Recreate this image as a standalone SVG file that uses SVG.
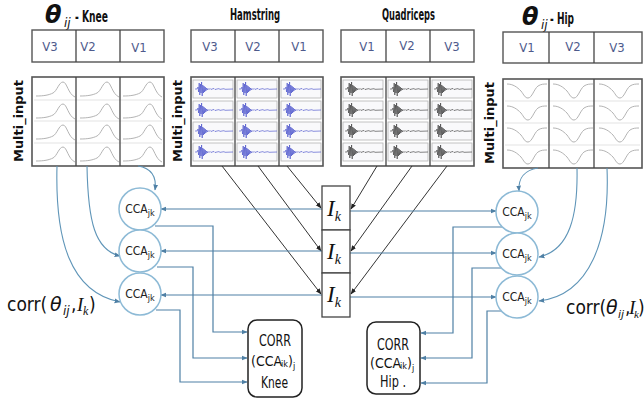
<svg xmlns="http://www.w3.org/2000/svg" xmlns:xlink="http://www.w3.org/1999/xlink" width="644" height="403" viewBox="0 0 644 403">
<style>
.t{font-family:"DejaVu Sans Condensed","DejaVu Sans",sans-serif;fill:#111}
.title{font-size:15px;font-weight:bold}
.vl{font-family:"DejaVu Sans Condensed","DejaVu Sans",sans-serif;font-size:13px;fill:#4e5a8c;text-anchor:middle}
.mi{font-family:"DejaVu Sans",sans-serif;font-weight:bold;font-size:13px;fill:#111;text-anchor:middle}
.vbox{fill:#fff;stroke:#555;stroke-width:1.4}
.pbox{fill:#fff;stroke:#555;stroke-width:1.6}
.div{stroke:#444;stroke-width:1.3}
.grid{stroke:#dcdcdc;stroke-width:0.8;fill:none}
.soft{fill:none;stroke:#b4b4b4;stroke-width:1}
.panel{fill:#f9f9fb;stroke:#b4b4b4;stroke-width:0.8}
.emgH{fill:none;stroke:#3d44c8;stroke-width:0.6}
.emgQ{fill:none;stroke:#333;stroke-width:0.6}
.cca{fill:#fff;stroke:#8dbad6;stroke-width:1.5}
.ccat{font-family:"DejaVu Sans Condensed","DejaVu Sans",sans-serif;font-size:12px;fill:#222;text-anchor:middle}
.ik{fill:#fff;stroke:#444;stroke-width:1.3}
.ikt{font-family:"Liberation Serif",serif;font-style:italic;font-size:23px;fill:#111;text-anchor:middle}
.corr{fill:#fff;stroke:#222;stroke-width:1.5}
.corrt{font-family:"DejaVu Sans Condensed","DejaVu Sans",sans-serif;font-size:15px;fill:#111}
.cc{font-family:"DejaVu Sans Condensed","DejaVu Sans",sans-serif;font-size:14px;fill:#111}
.blue{fill:none;stroke:#4f80a5;stroke-width:1.2;marker-end:url(#ab)}
.curve{fill:none;stroke:#5f95b8;stroke-width:1.1;marker-end:url(#ab)}
.diag{fill:none;stroke:#333;stroke-width:1;marker-end:url(#ak)}
.th{font-family:"DejaVu Sans",sans-serif;font-style:italic}
.ser{font-family:"Liberation Serif",serif;font-style:italic}
.cl{font-family:"DejaVu Sans Condensed","DejaVu Sans",sans-serif;font-size:19px;fill:#111}
</style>
<defs>
<marker id="ab" viewBox="0 0 10 10" refX="9" refY="5" markerWidth="6" markerHeight="6" orient="auto" markerUnits="userSpaceOnUse"><path d="M0,1 L10,5 L0,9 z" fill="#4f80a5"/></marker>
<marker id="ak" viewBox="0 0 10 10" refX="9" refY="5" markerWidth="6" markerHeight="6" orient="auto" markerUnits="userSpaceOnUse"><path d="M0,1 L10,5 L0,9 z" fill="#222"/></marker>
<path id="bump" d="M2,16 C10,16 15,15 19,13 C23,11 25,2 29,2 C33,2 34,14 41,17"/>
<path id="dip" d="M2,3 C8,3 12,6 16,10 C19,14 20,17 23,17 C27,17 29,8 33,5 C36,3 39,3 42,3"/>
<path id="emg" d="M0,8 L2,8 L3,6 L3.6,11 L4.2,2 L4.8,14 L5.4,3 L6,12 L6.6,1 L7.2,15 L7.8,4 L8.4,12 L9,5 L9.6,11 L10.2,6 L10.8,10 L11.5,7 L12.2,9 L13,7.5 L14,8.5 L15,7.5 L16,8.5 L17,8 L19,7.5 L20,8.5 L22,8 L24,7.6 L25,8.4 L27,8 L29,7.7 L30,8.3 L38,8"/>
<g id="emgcol">
<rect class="panel" x="2" y="3" width="40" height="18"/>
<rect class="panel" x="2" y="24" width="40" height="18"/>
<rect class="panel" x="2" y="45" width="40" height="18"/>
<rect class="panel" x="2" y="66" width="40" height="18"/>
</g>
</defs>

<!-- Knee -->
<g id="knee">
<text x="45" y="23" class="t th" style="font-size:24px;font-weight:bold">θ</text>
<text x="64" y="27" class="t th" style="font-size:12px">ij</text>
<text x="75" y="22" class="t title" textLength="33" lengthAdjust="spacingAndGlyphs">- Knee</text>
<rect class="vbox" x="32" y="30" width="132" height="32"/>
<line class="div" x1="76" y1="30" x2="76" y2="62"/><line class="div" x1="120" y1="30" x2="120" y2="62"/>
<text class="vl" x="50" y="51">V3</text><text class="vl" x="88" y="51">V2</text><text class="vl" x="139" y="52">V1</text>
<rect class="pbox" x="32" y="77" width="132" height="89"/>
<path class="grid" d="M34,100 H162 M34,121 H162 M34,143 H162"/>
<g class="soft">
<use href="#bump" x="34" y="80"/><use href="#bump" x="34" y="102"/><use href="#bump" x="34" y="123"/><use href="#bump" x="34" y="145"/>
<use href="#bump" x="78" y="80"/><use href="#bump" x="78" y="102"/><use href="#bump" x="78" y="123"/><use href="#bump" x="78" y="145"/>
<use href="#bump" x="121" y="80"/><use href="#bump" x="121" y="102"/><use href="#bump" x="121" y="123"/><use href="#bump" x="121" y="145"/>
</g>
<line class="div" x1="76" y1="77" x2="76" y2="166"/><line class="div" x1="120" y1="77" x2="120" y2="166"/>
<text class="mi" transform="translate(23,121) rotate(-90)" textLength="82" lengthAdjust="spacingAndGlyphs">Multi_input</text>
</g>

<!-- Hamstring -->
<g id="hamstring">
<text x="230" y="20" class="t title" textLength="50" lengthAdjust="spacingAndGlyphs">Hamstring</text>
<rect class="vbox" x="191" y="30" width="132" height="32"/>
<line class="div" x1="235" y1="30" x2="235" y2="62"/><line class="div" x1="279" y1="30" x2="279" y2="62"/>
<text class="vl" x="210" y="51">V3</text><text class="vl" x="253" y="51">V2</text><text class="vl" x="299" y="51">V1</text>
<rect class="pbox" x="191" y="77" width="132" height="89"/>
<use href="#emgcol" x="191" y="77"/><use href="#emgcol" x="235" y="77"/><use href="#emgcol" x="279" y="77"/>
<g class="emgH">
<use href="#emg" x="195" y="81"/><use href="#emg" x="195" y="102"/><use href="#emg" x="195" y="123"/><use href="#emg" x="195" y="144"/>
<use href="#emg" x="239" y="81"/><use href="#emg" x="239" y="102"/><use href="#emg" x="239" y="123"/><use href="#emg" x="239" y="144"/>
<use href="#emg" x="283" y="81"/><use href="#emg" x="283" y="102"/><use href="#emg" x="283" y="123"/><use href="#emg" x="283" y="144"/>
</g>
<line class="div" x1="235" y1="77" x2="235" y2="166"/><line class="div" x1="279" y1="77" x2="279" y2="166"/>
<text class="mi" transform="translate(182,121) rotate(-90)" textLength="82" lengthAdjust="spacingAndGlyphs">Multi_input</text>
</g>

<!-- Quadriceps -->
<g id="quadriceps">
<text x="382" y="20" class="t title" textLength="53" lengthAdjust="spacingAndGlyphs">Quadriceps</text>
<rect class="vbox" x="341" y="30" width="133" height="32"/>
<line class="div" x1="386" y1="30" x2="386" y2="62"/><line class="div" x1="430" y1="30" x2="430" y2="62"/>
<text class="vl" x="367" y="51">V1</text><text class="vl" x="407" y="50">V2</text><text class="vl" x="452" y="51">V3</text>
<rect class="pbox" x="341" y="77" width="133" height="89"/>
<use href="#emgcol" x="341" y="77"/><use href="#emgcol" x="386" y="77"/><use href="#emgcol" x="430" y="77"/>
<g class="emgQ">
<use href="#emg" x="345" y="81"/><use href="#emg" x="345" y="102"/><use href="#emg" x="345" y="123"/><use href="#emg" x="345" y="144"/>
<use href="#emg" x="390" y="81"/><use href="#emg" x="390" y="102"/><use href="#emg" x="390" y="123"/><use href="#emg" x="390" y="144"/>
<use href="#emg" x="434" y="81"/><use href="#emg" x="434" y="102"/><use href="#emg" x="434" y="123"/><use href="#emg" x="434" y="144"/>
</g>
<line class="div" x1="386" y1="77" x2="386" y2="166"/><line class="div" x1="430" y1="77" x2="430" y2="166"/>
</g>

<!-- Hip -->
<g id="hip">
<text x="522" y="25" class="t th" style="font-size:24px;font-weight:bold">θ</text>
<text x="541" y="29" class="t th" style="font-size:12px">ij</text>
<text x="550" y="24" class="t title" textLength="24" lengthAdjust="spacingAndGlyphs">- Hip</text>
<rect class="vbox" x="503" y="32" width="139" height="31"/>
<line class="div" x1="549" y1="32" x2="549" y2="63"/><line class="div" x1="594" y1="32" x2="594" y2="63"/>
<text class="vl" x="527" y="52">V1</text><text class="vl" x="573" y="51">V2</text><text class="vl" x="617" y="52">V3</text>
<rect class="pbox" x="503" y="79" width="139" height="89"/>
<path class="grid" d="M505,101 H640 M505,123 H640 M505,145 H640"/>
<g class="soft">
<use href="#dip" x="505" y="81"/><use href="#dip" x="505" y="103"/><use href="#dip" x="505" y="125"/><use href="#dip" x="505" y="147"/>
<use href="#dip" x="551" y="81"/><use href="#dip" x="551" y="103"/><use href="#dip" x="551" y="125"/><use href="#dip" x="551" y="147"/>
<use href="#dip" x="597" y="81"/><use href="#dip" x="597" y="103"/><use href="#dip" x="597" y="125"/><use href="#dip" x="597" y="147"/>
</g>
<line class="div" x1="549" y1="79" x2="549" y2="168"/><line class="div" x1="594" y1="79" x2="594" y2="168"/>
<text class="mi" transform="translate(494,123) rotate(-90)" textLength="82" lengthAdjust="spacingAndGlyphs">Multi_input</text>
</g>

<!-- Connectors -->
<g id="connectors">
<path class="diag" d="M287,166 L321,208"/>
<path class="diag" d="M258,166 L321,251"/>
<path class="diag" d="M222,166 L321,294"/>
<path class="diag" d="M377,166 L351,209"/>
<path class="diag" d="M412,166 L351,251"/>
<path class="diag" d="M447,166 L351,294"/>
<path class="blue" d="M322,209 H161"/>
<path class="blue" d="M322,251 H161"/>
<path class="blue" d="M322,295 H161"/>
<path class="blue" d="M350,211 H496"/>
<path class="blue" d="M350,253 H496"/>
<path class="blue" d="M350,297 H496"/>
<path class="curve" d="M57,166 C55,240 70,292 120,302"/>
<path class="curve" d="M87,166 C88,222 95,250 120,256"/>
<path class="curve" d="M138,166 C150,168 157,175 155,190"/>
<path class="curve" d="M538,168 C525,170 518,178 519,191"/>
<path class="curve" d="M577,168 C578,215 570,250 539,257"/>
<path class="curve" d="M607,168 C610,240 590,295 539,301"/>
<path class="blue" d="M155,226 H213 V332 H247"/>
<path class="blue" d="M157,267 H193 V358 H247"/>
<path class="blue" d="M156,310 H180 V382 H247"/>
<path class="blue" d="M502,227 H453 V333 H421"/>
<path class="blue" d="M502,268 H472 V358 H421"/>
<path class="blue" d="M502,311 H487 V383 H421"/>
</g>

<!-- I_k boxes -->
<g id="ik1"><rect class="ik" x="322" y="186" width="28" height="44"/><text class="ikt" x="334" y="216">I<tspan font-size="14" dy="5">k</tspan></text></g>
<g id="ik2"><rect class="ik" x="322" y="230" width="28" height="43"/><text class="ikt" x="334" y="259">I<tspan font-size="14" dy="5">k</tspan></text></g>
<g id="ik3"><rect class="ik" x="322" y="273" width="28" height="44"/><text class="ikt" x="334" y="302">I<tspan font-size="14" dy="5">k</tspan></text></g>

<!-- CCA left -->
<g id="cca-l1"><circle class="cca" cx="140" cy="209" r="21"/><text class="ccat" x="140" y="213">CCA<tspan font-size="9" dy="3">jk</tspan></text></g>
<g id="cca-l2"><circle class="cca" cx="140" cy="251" r="21"/><text class="ccat" x="140" y="255">CCA<tspan font-size="9" dy="3">jk</tspan></text></g>
<g id="cca-l3"><circle class="cca" cx="140" cy="294" r="21"/><text class="ccat" x="140" y="298">CCA<tspan font-size="9" dy="3">jk</tspan></text></g>
<!-- CCA right -->
<g id="cca-r1"><circle class="cca" cx="517" cy="212" r="21"/><text class="ccat" x="517" y="216">CCA<tspan font-size="9" dy="3">jk</tspan></text></g>
<g id="cca-r2"><circle class="cca" cx="517" cy="254" r="21"/><text class="ccat" x="517" y="258">CCA<tspan font-size="9" dy="3">jk</tspan></text></g>
<g id="cca-r3"><circle class="cca" cx="517" cy="297" r="21"/><text class="ccat" x="517" y="301">CCA<tspan font-size="9" dy="3">jk</tspan></text></g>

<!-- CORR boxes -->
<g id="corr-knee">
<rect class="corr" x="248" y="320" width="54" height="77" rx="9"/>
<text class="corrt" x="259" y="346" textLength="32" lengthAdjust="spacingAndGlyphs">CORR</text>
<text class="cc" y="366"><tspan x="251">(CCA</tspan><tspan x="281" dy="1" font-size="9">ik</tspan><tspan x="288" dy="-1">)</tspan><tspan x="293" dy="3" font-size="9">j</tspan></text>
<text class="corrt" x="261" y="388" textLength="27" lengthAdjust="spacingAndGlyphs">Knee</text>
</g>
<g id="corr-hip">
<rect class="corr" x="367" y="322" width="53" height="72" rx="9"/>
<text class="corrt" x="377" y="350" textLength="32" lengthAdjust="spacingAndGlyphs">CORR</text>
<text class="cc" y="368"><tspan x="370">(CCA</tspan><tspan x="400" dy="1" font-size="9">ik</tspan><tspan x="407" dy="-1">)</tspan><tspan x="412" dy="3" font-size="9">j</tspan></text>
<text class="corrt" x="380" y="387" textLength="26" lengthAdjust="spacingAndGlyphs">Hip .</text>
</g>

<!-- corr labels -->
<g id="corr-left">
<text class="cl" y="311"><tspan x="7">corr(</tspan><tspan x="50" class="th">θ</tspan><tspan x="63" dy="4" font-size="12" class="th">ij</tspan><tspan x="71" dy="-4">,</tspan><tspan x="77" class="ser">I</tspan><tspan x="83" dy="4" font-size="12" class="ser">k</tspan><tspan x="89" dy="-4">)</tspan></text>
</g>
<g id="corr-right">
<text class="cl" y="314" font-size="18"><tspan x="566">corr(</tspan><tspan x="606" class="th">θ</tspan><tspan x="618" dy="4" font-size="11" class="th">ij</tspan><tspan x="625" dy="-4">,</tspan><tspan x="629" class="ser">I</tspan><tspan x="634" dy="4" font-size="11" class="ser">k</tspan><tspan x="638" dy="-4">)</tspan></text>
</g>
</svg>
